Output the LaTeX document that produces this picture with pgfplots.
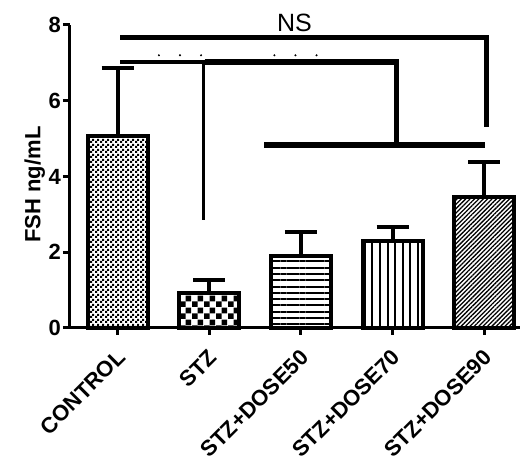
\documentclass[border=0pt]{standalone}
\usepackage{pgfplots}
\pgfplotsset{compat=1.18}
\usepackage{fontspec}
\setmainfont{Liberation Sans}
\usetikzlibrary{patterns,patterns.meta}

\tikzdeclarepattern{
  name=finecheck,
  type=uncolored,
  bounding box={(0,0) and (5bp,5bp)},
  tile size={(5bp,5bp)},
  code={
    \fill (0,0) rectangle (2.5bp,2.5bp);
    \fill (2.5bp,2.5bp) rectangle (5bp,5bp);
  }
}
\tikzdeclarepattern{
  name=coarsecheck,
  type=uncolored,
  bounding box={(0,0) and (12bp,12bp)},
  tile size={(12bp,12bp)},
  code={
    \fill (0,0) rectangle (6bp,6bp);
    \fill (6bp,6bp) rectangle (12bp,12bp);
  }
}

\begin{document}
\begin{tikzpicture}
\begin{axis}[
  name=ax,
  scale only axis, width=450bp, height=303bp,
  xmin=-0.52, xmax=4.39, ymin=0, ymax=8,
  axis lines=left, axis line style={line width=3bp, -},
  xtick={0,1,2,3,4},
  xticklabels={CONTROL,STZ,STZ+DOSE50,STZ+DOSE70,STZ+DOSE90},
  x tick label style={xshift=-2bp, yshift=-13bp, rotate=45, anchor=north east, inner sep=0pt,
     font=\fontsize{22bp}{22bp}\selectfont\bfseries},
  ytick={0,2,4,6,8},
  y tick label style={font=\fontsize{22bp}{22bp}\selectfont\bfseries, inner sep=2bp},
  tick style={line width=3bp, black},
  tick align=outside, major tick length=7bp,
  ylabel={FSH ng/mL},
  ylabel style={font=\fontsize{22bp}{22bp}\selectfont\bfseries, yshift=-2bp, xshift=-8bp},
  clip=false,
  /pgf/number format/assume math mode=true,
]
% bars
\addplot[ybar, bar width=60bp, bar shift=0pt, draw=black, line width=4bp, pattern=finecheck,
  error bars/.cd, y dir=plus, y explicit, error mark=|,
  error bar style={line width=4bp, black},
  error mark options={mark size=16bp, line width=4bp, black}]
  coordinates {(0,5.07) +- (0,1.79)};
\addplot[ybar, bar width=60bp, bar shift=0pt, draw=black, line width=4bp, pattern=coarsecheck,
  error bars/.cd, y dir=plus, y explicit, error mark=|,
  error bar style={line width=4bp, black},
  error mark options={mark size=16bp, line width=4bp, black}]
  coordinates {(1,0.92) +- (0,0.35)};
\addplot[ybar, bar width=60bp, bar shift=0pt, draw=black, line width=4bp,
  pattern={Lines[angle=0, distance=6.3bp, line width=2bp]},
  error bars/.cd, y dir=plus, y explicit, error mark=|,
  error bar style={line width=4bp, black},
  error mark options={mark size=16bp, line width=4bp, black}]
  coordinates {(2,1.91) +- (0,0.63)};
\addplot[ybar, bar width=60bp, bar shift=0pt, draw=black, line width=4bp,
  pattern={Lines[angle=90, distance=7.6bp, line width=2bp]},
  error bars/.cd, y dir=plus, y explicit, error mark=|,
  error bar style={line width=4bp, black},
  error mark options={mark size=16bp, line width=4bp, black}]
  coordinates {(3,2.30) +- (0,0.37)};
\addplot[ybar, bar width=60bp, bar shift=0pt, draw=black, line width=4bp,
  pattern={Lines[angle=45, distance=3.1bp, line width=1.3bp]},
  error bars/.cd, y dir=plus, y explicit, error mark=|,
  error bar style={line width=4bp, black},
  error mark options={mark size=16bp, line width=4bp, black}]
  coordinates {(4,3.45) +- (0,0.92)};
% significance brackets
\addplot[black, line width=5bp, no marks] coordinates {(0.03,7.68) (4.02,7.68) (4.02,5.30)};
\addplot[black, line width=3.5bp, no marks] coordinates {(0.03,7.02) (0.95,7.02)};
\addplot[black, line width=3.3bp, no marks] coordinates {(0.94,7.02) (0.94,2.85)};
\addplot[black, line width=5.5bp, no marks] coordinates {(0.95,7.02) (3.04,7.02) (3.04,4.83)};
\addplot[black, line width=6bp, no marks] coordinates {(1.60,4.83) (4.01,4.83)};
\addplot[black, only marks, mark=*, mark size=0.8bp] coordinates {(0.45,7.2) (0.68,7.2) (0.91,7.2) (1.71,7.2) (1.94,7.2) (2.17,7.2)};
\node[font=\fontsize{25bp}{25bp}\selectfont] at (axis cs:1.93,8.06) {NS};
\end{axis}
\pgfresetboundingbox
\path[use as bounding box] ([xshift=-70bp,yshift=-135bp]ax.south west) rectangle ([yshift=25bp]ax.north east);
\end{tikzpicture}
\end{document}
